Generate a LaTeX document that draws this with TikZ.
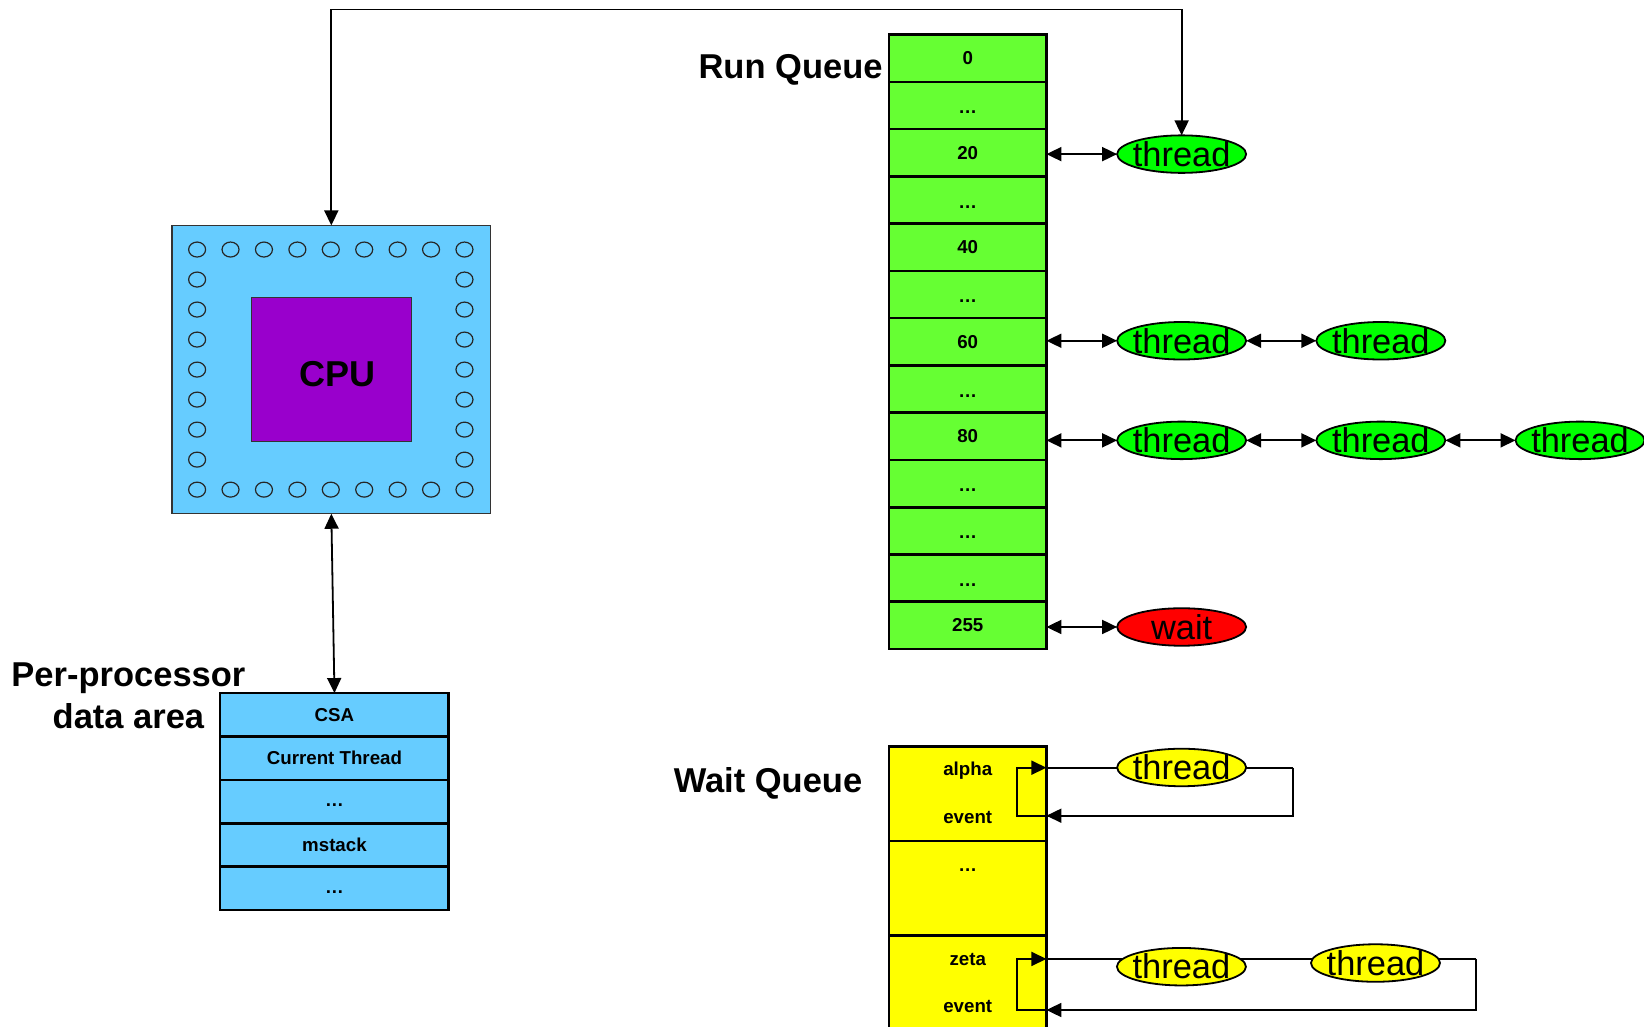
\documentclass[tikz,border=0pt]{standalone}
\usepackage{fontspec}
\setmainfont{Liberation Sans}
\usetikzlibrary{shapes.geometric, arrows.meta, backgrounds}

\definecolor{chipblue}{HTML}{66CCFF}
\definecolor{cpupurple}{HTML}{9900CC}
\definecolor{rqgreen}{HTML}{66FF33}
\definecolor{thgreen}{HTML}{00FF00}
\definecolor{wqyellow}{HTML}{FFFF00}
\definecolor{waitred}{HTML}{FF0000}

\newcommand\lblfont{\fontsize{34.5}{42}\selectfont\bfseries}
\newcommand\cpufont{\fontsize{36}{40}\selectfont\bfseries}
\newcommand\cellfont{\fontsize{18.7}{22}\selectfont\bfseries}
\newcommand\ovalfont{\fontsize{34.4}{40}\selectfont}
\newcommand\ovaltext[1]{\makebox[0pt]{#1}}
% ellipsis set a little below the cell centre
\newcommand\rqdots{\raisebox{-8pt}[0pt][0pt]{…}}
\newcommand\ppdots{\raisebox{-5pt}[0pt][0pt]{…}}
\newcommand\wqdots{\raisebox{-4pt}[0pt][0pt]{…}}

\begin{document}
\begin{tikzpicture}[x=1.0485pt, y=-1.0485pt,
  >={Triangle[length=15pt,width=14pt]},
  link/.style={draw=black, line width=1.8pt},
  dbl/.style={link, <->},
  pin/.style={draw=black!85, line width=1.2pt},
  rqcell/.style={draw=black, line width=2.6pt, fill=rqgreen, minimum width=157.3pt,
    minimum height=47.27pt, inner sep=0pt, outer sep=0pt, font=\cellfont},
  ppcell/.style={draw=black, line width=2.6pt, fill=chipblue, minimum width=228.6pt,
    minimum height=43.4pt, inner sep=0pt, outer sep=0pt, font=\cellfont},
  wqcell/.style={draw=black, line width=2.6pt, fill=wqyellow, minimum width=157.3pt,
    minimum height=94.4pt, inner sep=0pt, outer sep=0pt},
  cellword/.style={font=\cellfont, inner sep=0pt},
  heading/.style={font=\lblfont, inner sep=0pt, align=center},
  oval/.style={ellipse, draw=black, line width=1.8pt, minimum width=129pt,
    minimum height=37.5pt, inner sep=0pt, outer sep=0pt, font=\ovalfont},
]
\useasboundingbox (0,0) rectangle (1568,979.5);

% ---------- processor chip ----------
\node[draw=black!80, line width=1.2pt, fill=chipblue, minimum width=318.7pt,
  minimum height=288.3pt, inner sep=0pt, outer sep=0pt] (cpu) at (316,352.5) {};
\foreach \i in {0,...,8} {
  \draw[pin] (188+31.875*\i,238) ellipse [x radius=8.5pt, y radius=7.5pt];
  \draw[pin] (188+31.875*\i,467) ellipse [x radius=8.5pt, y radius=7.5pt];
}
\foreach \j in {1,...,7} {
  \draw[pin] (188,238+28.625*\j) ellipse [x radius=8.5pt, y radius=7.5pt];
  \draw[pin] (443,238+28.625*\j) ellipse [x radius=8.5pt, y radius=7.5pt];
}
\node[draw=black!80, line width=1pt, fill=cpupurple, minimum width=159.4pt,
  minimum height=143.6pt, inner sep=0pt] (core) at (316,352.5) {};
\node[font=\cpufont, inner sep=0pt] (cpulabel) at (322,357) {CPU};

% ---------- per-processor data area ----------
\foreach \lab [count=\i from 0] in {CSA, Current Thread, \ppdots, mstack, \ppdots}
  \node[ppcell] (pp\i) at (319,{661+(\i+0.5)*41.4}) {\lab};
\node[heading] (pplabel) at (122.5,664) {Per-processor\\data area};
\draw[dbl] (cpu.south) -- (pp0.north);

% ---------- run queue ----------
\foreach \lab [count=\i from 0] in {0,\rqdots,20,\rqdots,40,\rqdots,60,\rqdots,80,\rqdots,\rqdots,\rqdots,255}
  \node[rqcell] (rq\i) at (923,{33+(\i+0.5)*45.08}) {\lab};
\node[heading] (rqlabel) at (754,67) {Run Queue};

\node[oval, fill=thgreen] (t20) at (1127,147) {\ovaltext{thread}};
\node[oval, fill=thgreen] (t60a) at (1127,325) {\ovaltext{thread}};
\node[oval, fill=thgreen] (t60b) at (1317,325) {\ovaltext{thread}};
\node[oval, fill=thgreen] (t80a) at (1127,420) {\ovaltext{thread}};
\node[oval, fill=thgreen] (t80b) at (1317,420) {\ovaltext{thread}};
\node[oval, fill=thgreen] (t80c) at (1507,420) {\ovaltext{thread}};
\node[oval, fill=waitred] (w255) at (1127,598) {\ovaltext{wait}};

\draw[dbl] (t20.west -| rq2.east) -- (t20.west);
\draw[dbl] (t60a.west -| rq6.east) -- (t60a.west);
\draw[dbl] (t60a.east) -- (t60b.west);
\draw[dbl] (t80a.west -| rq8.east) -- (t80a.west);
\draw[dbl] (t80a.east) -- (t80b.west);
\draw[dbl] (t80b.east) -- (t80c.west);
\draw[dbl] (w255.west -| rq12.east) -- (w255.west);

% link from the processor to the running thread
\coordinate (overhead) at (700,9);
\draw[dbl] (cpu.north) |- (overhead) -| (t20.north);

% ---------- wait queue ----------
\node[wqcell] (wq0) at (923,757) {};
\node[wqcell] (wq1) at (923,847) {};
\node[wqcell] (wq2) at (923,937) {};
\node[cellword] (walpha) at (923,735) {alpha};
\node[cellword] (wev1) at (923,780) {event};
\node[cellword] (wdots) at (923,827) {\wqdots};
\node[cellword] (wzeta) at (923,915) {zeta};
\node[cellword] (wev2) at (923,960) {event};
\node[heading] (wqlabel) at (732.5,747) {Wait Queue};

% alpha event chain
\node[oval, fill=wqyellow] (ta) at (1127,732) {\ovaltext{thread}};
\coordinate (aTop) at (1233,732.2);
\coordinate (aBot) at (1233,778);
\coordinate (aFoot) at (970,778);
\coordinate (aIn) at (wq0.east |- aTop);
\begin{scope}[on background layer]
  \draw[link] (aIn) -- (aTop);
\end{scope}
\draw[link, ->] (aTop) -- (aBot) -- (aFoot) |- (aIn);
\draw[link, ->] (aBot) -- (aBot -| wq0.east);

% zeta event chain
\node[oval, fill=wqyellow] (tz1) at (1126.8,922) {\ovaltext{thread}};
\node[oval, fill=wqyellow] (tz2) at (1311.9,918.5) {\ovaltext{thread}};
\coordinate (zTop) at (1407.7,914.6);
\coordinate (zBot) at (1407.7,963.3);
\coordinate (zFoot) at (970,963.3);
\coordinate (zIn) at (wq2.east |- zTop);
\begin{scope}[on background layer]
  \draw[link] (zIn) -- (zTop);
\end{scope}
\draw[link, ->] (zTop) -- (zBot) -- (zFoot) |- (zIn);
\draw[link, ->] (zBot) -- (zBot -| wq2.east);
\end{tikzpicture}
\end{document}
